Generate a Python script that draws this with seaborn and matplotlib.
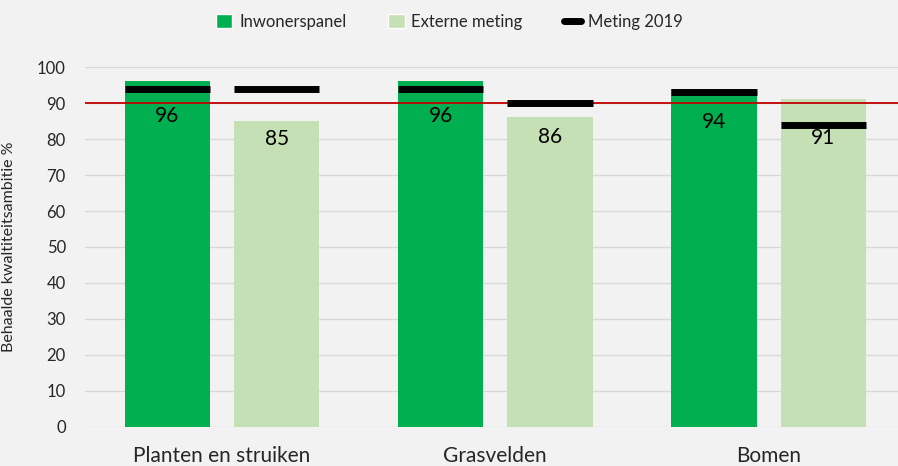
import pandas as pd
import numpy as np
import matplotlib.pyplot as plt
import seaborn as sns
from matplotlib.patches import Patch
from matplotlib.lines import Line2D

categories = ["Planten en struiken", "Grasvelden", "Bomen"]
series = ["Inwonerspanel", "Externe meting"]
inwonerspanel = [96, 96, 94]
externe_meting = [85, 86, 91]
meting_2019_inwoner = [94, 94, 93]
meting_2019_extern = [94, 90, 84]
ambitie = 90

df = pd.DataFrame({
    "categorie": categories * 2,
    "reeks": [series[0]] * 3 + [series[1]] * 3,
    "waarde": inwonerspanel + externe_meting,
})

GREEN = "#00b050"
LIGHT = "#c5e0b4"
BG = "#f2f2f2"

sns.set_style("white")
plt.rcParams["font.family"] = ["Lato", "DejaVu Sans"]

fig = plt.figure(figsize=(8.98, 4.66), dpi=100, facecolor=BG)
ax = fig.add_axes([0.095, 0.084, 0.913, 0.772], facecolor=BG)

sns.barplot(data=df, x="categorie", y="waarde", hue="reeks",
            palette=[GREEN, LIGHT], saturation=1, width=0.8, gap=0.22,
            linewidth=0, order=categories, hue_order=series,
            legend=False, ax=ax)

# meting 2019 markers + value labels, placed on each bar
label_drop = [[9.6, 9.6, 9.2], [5.0, 5.4, 10.7]]
for k, (cont, prev) in enumerate(zip(ax.containers, [meting_2019_inwoner, meting_2019_extern])):
    for i, bar in enumerate(cont):
        x0 = bar.get_x()
        w = bar.get_width()
        ax.hlines(prev[i], x0, x0 + w, color="black", lw=5, zorder=4)
        h = bar.get_height()
        ax.text(x0 + w / 2, h - label_drop[k][i], f"{h:.0f}", ha="center",
                va="center", fontsize=15, color="black", zorder=5)

ax.axhline(ambitie, color="#c00000", lw=1.3, zorder=3)

ax.set_ylim(0, 100)
ax.set_xlim(-0.5, 2.5)
ax.set_yticks(np.arange(0, 101, 10))
ax.yaxis.grid(True, color="#d9d9d9", lw=1)
ax.set_axisbelow(True)
for s in ax.spines.values():
    s.set_visible(False)
ax.tick_params(axis="y", labelsize=12, length=0, pad=14)
ax.tick_params(axis="x", labelsize=15, length=0, pad=14)
ax.set_xlabel("")
ax.set_ylabel("Behaalde kwaltiteitsambitie %", fontsize=11.5)
ax.yaxis.set_label_coords(-0.085, 0.5)

handles = [
    Patch(facecolor=GREEN, label="Inwonerspanel"),
    Patch(facecolor=LIGHT, label="Externe meting"),
    Line2D([0], [0], color="black", lw=5, label="Meting 2019"),
]
fig.legend(handles=handles, loc="center", bbox_to_anchor=(0.5, 0.953), ncol=3,
           frameon=False, fontsize=12, handlelength=1.0, handleheight=0.9,
           columnspacing=2.5, handletextpad=0.4)

fig.savefig("out.png", dpi=100, facecolor=BG)
